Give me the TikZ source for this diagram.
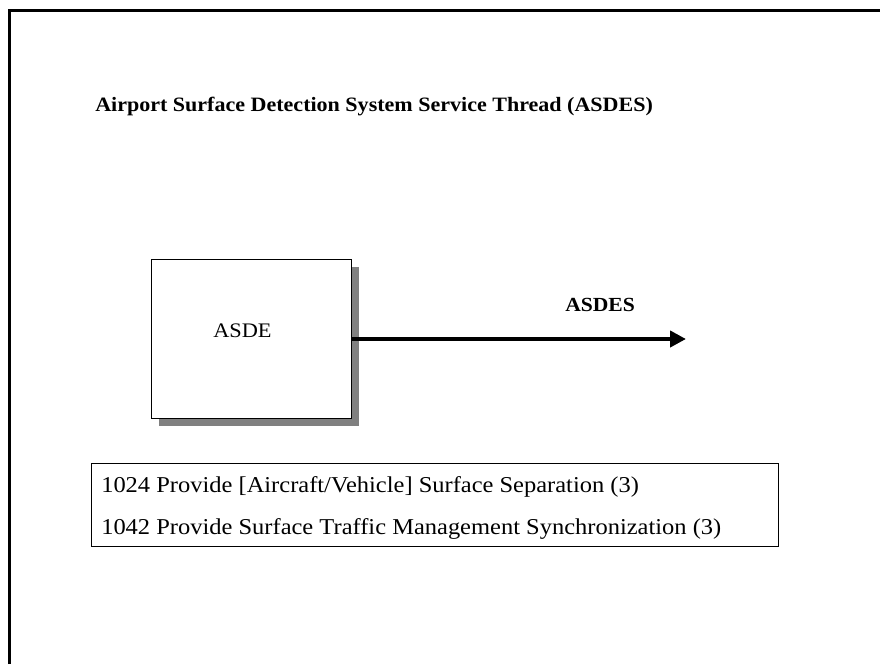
\documentclass[tikz,border=0pt]{standalone}
\usepackage{fontspec}
\setmainfont{Liberation Serif}[FakeStretch=1.08]
\usetikzlibrary{positioning,arrows.meta}

\begin{document}
\begin{tikzpicture}[x=0.75pt,y=-0.75pt,every node/.style={inner sep=0pt}]
\useasboundingbox (0,0) rectangle (880,664);
% Frame
\draw[line width=2.25pt] (9.5,664) -- (9.5,10.5) -- (880,10.5);
\node[anchor=base west,font=\fontsize{15.3}{18}\selectfont\bfseries] (title) at (95,111) {Airport Surface Detection System Service Thread (ASDES)};
% Shadowed box
\fill[gray] (159,267) rectangle (359,426);
\node[draw,fill=white,line width=0.75pt,anchor=north west,minimum width=150pt,minimum height=119.25pt] (asde) at (151,259) {};
\node[anchor=base west,font=\fontsize{15.5}{18}\selectfont] (asdetext) at (213,337) {ASDE};
\coordinate (asdesout) at (686,339);
\draw[line width=3pt,-{Triangle[length=12pt,width=12pt]}] (asde.east |- asdesout) -- (asdesout);
\node[anchor=base west,font=\fontsize{15}{18}\selectfont\bfseries] (asdes) at (565,311) {ASDES};
% Functions
\node[draw,line width=0.75pt,anchor=north west,minimum width=515.25pt,minimum height=62.25pt] (fnbox) at (91,463) {};
\node[anchor=base west,font=\fontsize{17}{20}\selectfont] (fna) at (101,492) {1024 Provide [Aircraft/Vehicle] Surface Separation (3)};
\node[anchor=base west,font=\fontsize{17}{20}\selectfont] (fnb) at (101,534) {1042 Provide Surface Traffic Management Synchronization (3)};
\end{tikzpicture}
\end{document}
